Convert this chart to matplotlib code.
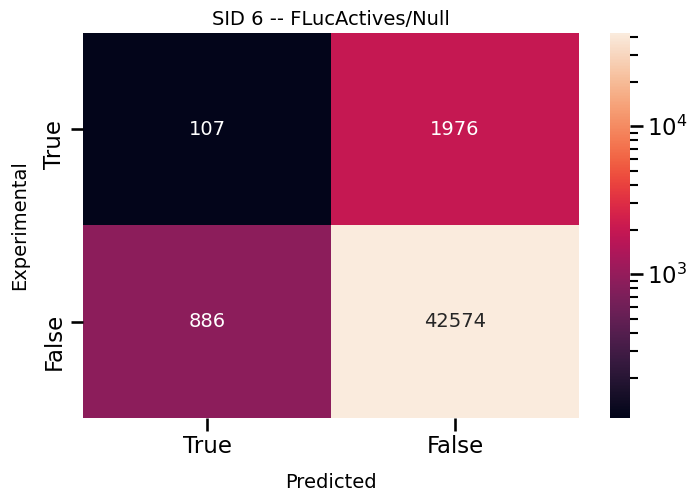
import numpy as np
import matplotlib
matplotlib.use('Agg')
import matplotlib.pyplot as plt
import matplotlib.transforms as mtrans
import seaborn as sns
from matplotlib.colors import LogNorm

# confusion matrix
labels = ['True', 'False']
counts = np.array([[107, 1976], [886, 42574]])

sns.set_context('talk')
fig = plt.figure(figsize=(6.97, 5.01), dpi=100)
ax = fig.add_axes([83/697, 1-417.7/501, 496/697, 384.7/501])
cax = fig.add_axes([610/697, 1-417.7/501, 20/697, 384.7/501])

sns.heatmap(counts, annot=True, fmt='d', norm=LogNorm(vmin=counts.min(), vmax=counts.max()),
            xticklabels=labels, yticklabels=labels, ax=ax, cbar_ax=cax,
            annot_kws={'fontsize': 14})

ax.set_title('SID 6 -- FLucActives/Null', fontsize=14, pad=5.7)
ax.set_xlabel('Predicted', fontsize=14, labelpad=10.5)
ax.set_ylabel('Experimental', fontsize=14, labelpad=10)

# y tick labels sit below their ticks
shift = mtrans.ScaledTranslation(0, 6.3/72, fig.dpi_scale_trans)
for lab in ax.get_yticklabels():
    lab.set_va('top')
    lab.set_transform(lab.get_transform() + shift)

fig.savefig('out.png', dpi=100)
